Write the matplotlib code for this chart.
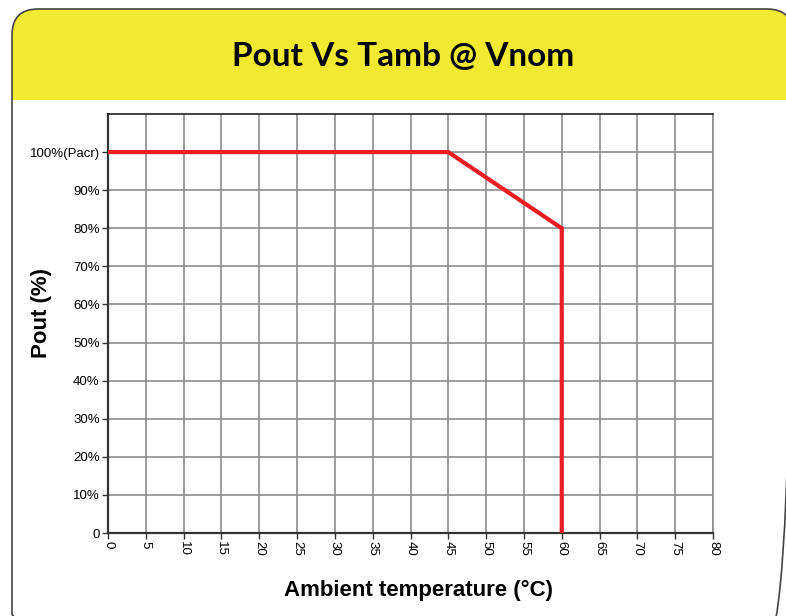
import matplotlib.pyplot as plt
from matplotlib.patches import FancyBboxPatch, Rectangle

# data
temp = [0, 45, 60, 60]
pout = [100, 100, 80, 0]
x_ticks = list(range(0, 85, 5))
y_ticks = list(range(0, 110, 10))
y_labels = ["0"] + [f"{v}%" for v in y_ticks[1:-1]] + ["100%(Pacr)"]

W, H = 786, 616
fig = plt.figure(figsize=(W / 100, H / 100), dpi=100)

# background frame drawn in pixel coordinates
bg = fig.add_axes([0, 0, 1, 1], zorder=0)
bg.set_xlim(0, W)
bg.set_ylim(H, 0)
bg.axis("off")
yellow = "#f2ea30"
x0, y0, x1, y1, r = 12, 9, 793, 640, 26
bg.add_patch(FancyBboxPatch((x0, y0), x1 - x0, 91, boxstyle=f"round,pad=0,rounding_size={r}",
                            fc=yellow, ec="none"))
bg.add_patch(Rectangle((x0, 60), x1 - x0, 40, fc=yellow, ec="none"))
bg.add_patch(FancyBboxPatch((x0, y0), x1 - x0, y1 - y0, boxstyle=f"round,pad=0,rounding_size={r}",
                            fc="none", ec="#444444", lw=1.2))
bg.text(403, 57, "Pout Vs Tamb @ Vnom", ha="center", va="center",
        fontsize=24, fontweight="bold", family="Lato")

ax = fig.add_axes([108 / W, 1 - 533 / H, 605 / W, 419 / H], zorder=2)
ax.plot(temp, pout, color="#ed1c24", lw=3, solid_joinstyle="miter", zorder=3)
ax.set_xlim(0, 80)
ax.set_ylim(0, 110)
ax.set_xticks(x_ticks)
ax.set_xticklabels([str(v) for v in x_ticks], rotation=270, family="Liberation Sans")
ax.set_yticks(y_ticks)
ax.set_yticklabels(y_labels, family="Liberation Sans")
ax.grid(True, color="#8c8c8c", lw=1.2)
ax.set_axisbelow(True)
ax.tick_params(labelsize=9.5, length=4, width=1, color="#333333", pad=2)
for s in ["left", "bottom"]:
    ax.spines[s].set_color("#333333")
    ax.spines[s].set_linewidth(1.6)
ax.spines["top"].set_color("#222222")
ax.spines["top"].set_linewidth(1.2)
ax.spines["right"].set_color("#8c8c8c")
ax.spines["right"].set_linewidth(1.2)

fig.text(418 / W, 1 - 590 / H, "Ambient temperature (°C)", ha="center", va="center",
         fontsize=16, fontweight="bold", family="Liberation Sans")
fig.text(42 / W, 1 - 313 / H, "Pout (%)", ha="center", va="center", rotation=90,
         fontsize=16, fontweight="bold", family="Liberation Sans")

fig.savefig("out.png", dpi=100)
